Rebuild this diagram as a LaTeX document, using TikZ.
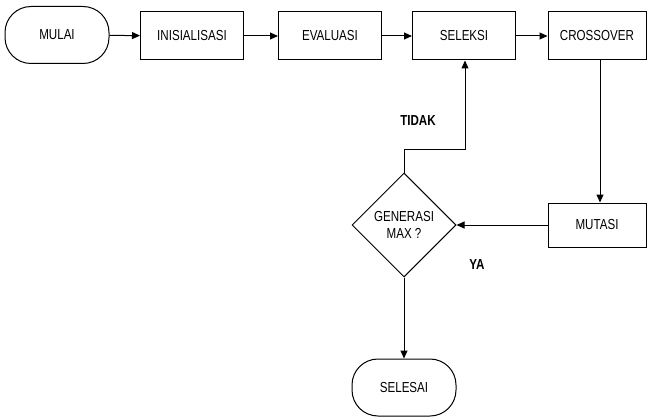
\documentclass[tikz,border=0pt]{standalone}
\usepackage{fontspec}
\setmainfont{Liberation Sans}[FakeStretch=0.8]
\usetikzlibrary{arrows.meta,shapes.geometric}
\begin{document}
\begin{tikzpicture}[x=1pt,y=-1pt,
  every node/.style={font=\fontsize{14.5}{16}\selectfont},
  box/.style={draw,line width=1pt,minimum width=103pt,minimum height=48pt,inner sep=0pt},
  term/.style={draw,line width=1pt,rounded corners=26pt,minimum width=104pt,minimum height=57pt,inner sep=0pt},
  dec/.style={draw,line width=1pt,diamond,minimum width=104pt,minimum height=104pt,inner sep=0pt,align=center,font=\fontsize{14.5}{17}\selectfont},
  arr/.style={line width=1pt,-{Triangle[length=8pt,width=7pt]}},
  lbl/.style={font=\fontsize{14.5}{16}\selectfont\bfseries}]
\useasboundingbox (0,0) rectangle (647,417);
\node[term] (mulai) at (57,35) {MULAI};
\node[box] (init) at (192,36) {INISIALISASI};
\node[box] (eval) at (330,36) {EVALUASI};
\node[box] (sel) at (464,36) {SELEKSI};
\node[box,minimum width=98pt] (cross) at (597,36) {CROSSOVER};
\node[box,minimum width=98pt,minimum height=44pt] (mut) at (597,225) {MUTASI};
\node[dec] (gen) at (404,225) {GENERASI\\MAX ?};
\node[term] (selesai) at (404,387.5) {SELESAI};
\coordinate (c1) at (404,149);
\coordinate (c2) at (465,149);
\draw[arr] (mulai) -- (init);
\draw[arr] (init) -- (eval);
\draw[arr] (eval) -- (sel);
\draw[arr] (sel) -- (cross);
\draw[arr] (cross.south -| 600,0) -- (mut.north -| 600,0);
\draw[arr] (mut) -- (gen);
\draw[arr] (gen.north) -- (c1) -- (c2) -- (sel.south -| c2);
\draw[arr] (gen.south) -- (selesai.north);
\node[lbl] (tidak) at (418,121) {TIDAK};
\node[lbl] (ya) at (477,265) {YA};
\end{tikzpicture}
\end{document}
